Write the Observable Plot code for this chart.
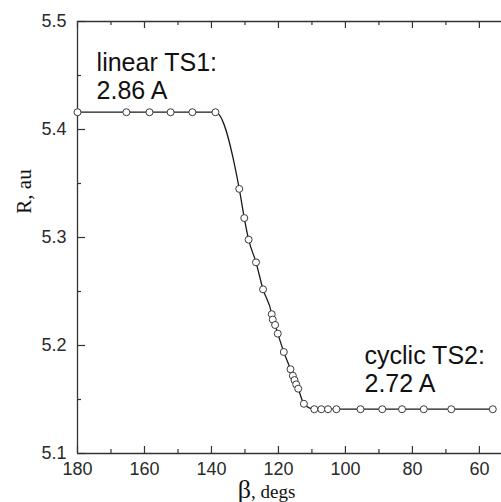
<!DOCTYPE html>
<html><head><meta charset="utf-8">
<script src="https://cdn.jsdelivr.net/npm/d3@7"></script>
<script src="https://cdn.jsdelivr.net/npm/@observablehq/plot@0.6"></script>
<style>body{margin:0;background:#fff;}</style>
</head><body><div id="chart"></div>
<script>
// data
const beta = [180, 165.4, 158.5, 152.2, 145.7, 138.8, 131.7, 130.2, 128.9, 126.7, 124.6, 122.0, 121.7, 121.0, 120.2, 118.4, 116.4, 115.7, 115.2, 114.7, 114.1, 112.4, 109.3, 107.2, 105.2, 102.7, 95.5, 89.0, 83.1, 76.6, 68.4, 56.0];
const R    = [5.416, 5.416, 5.416, 5.416, 5.416, 5.416, 5.345, 5.318, 5.298, 5.277, 5.252, 5.229, 5.224, 5.219, 5.211, 5.194, 5.178, 5.172, 5.168, 5.164, 5.160, 5.146, 5.141, 5.141, 5.141, 5.141, 5.141, 5.141, 5.141, 5.141, 5.141, 5.141];
const xMajorTicks = [180, 160, 140, 120, 100, 80, 60];
const xMinorTicks = [170, 150, 130, 110, 90, 70];
const yMajorTicks = [5.1, 5.2, 5.3, 5.4, 5.5];
const yMinorTicks = [5.15, 5.25, 5.35, 5.45];
const annText = ["linear TS1:\n2.86 A", "cyclic TS2:\n2.72 A"];
const annX = [174.3, 94.3];
const annY = [5.473, 5.201];
const xDomain = [180, 53.4];
const yDomain = [5.1, 5.5];

const points = beta.map((b, i) => ({beta: b, R: R[i]}));
const anns = annText.map((t, i) => ({t, x: annX[i], y: annY[i]}));

const W = 501, H = 502;
const mL = 77, mR = 0, mT = 21, mB = 49;
const fw = W - mL - mR, fh = H - mT - mB;
const ink = "#2a2a2a";
const sans = "'Liberation Sans', Arial, Helvetica, sans-serif";
const serif = "'Liberation Serif', 'Times New Roman', serif";

const chart = Plot.plot({
  width: W, height: H,
  marginLeft: mL, marginRight: mR, marginTop: mT, marginBottom: mB,
  style: {fontFamily: sans, color: ink, background: "#fff", overflow: "visible"},
  x: {domain: xDomain, range: [mL, W - mR]},
  y: {domain: yDomain},
  marks: [
    // frame lines
    Plot.ruleX([xDomain[0]], {stroke: "#333", strokeWidth: 1.3}),
    Plot.ruleY(yDomain, {stroke: "#333", strokeWidth: 1.3}),
    // inward ticks bottom
    Plot.ruleX(xMajorTicks, {x: d => d, insetTop: fh - 7, stroke: "#333", strokeWidth: 1.2}),
    Plot.ruleX(xMinorTicks, {x: d => d, insetTop: fh - 4, stroke: "#333", strokeWidth: 1.2}),
    // inward ticks top
    Plot.ruleX(xMajorTicks, {x: d => d, insetBottom: fh - 7, stroke: "#333", strokeWidth: 1.2}),
    Plot.ruleX(xMinorTicks, {x: d => d, insetBottom: fh - 4, stroke: "#333", strokeWidth: 1.2}),
    // inward ticks left
    Plot.ruleY(yMajorTicks, {y: d => d, insetRight: fw - 8, stroke: "#333", strokeWidth: 1.2}),
    Plot.ruleY(yMinorTicks, {y: d => d, insetRight: fw - 4, stroke: "#333", strokeWidth: 1.2}),
    // axis labels
    Plot.axisX(xMajorTicks, {anchor: "bottom", tickSize: 0, tickPadding: 9, fontSize: 18, label: null, fill: ink}),
    Plot.axisY(yMajorTicks, {anchor: "left", tickSize: 0, tickPadding: 11, fontSize: 18, label: null, fill: ink, tickFormat: d3.format(".1f")}),
    // data
    Plot.line(points, {x: "beta", y: "R", stroke: "#1a1a1a", strokeWidth: 1.3, curve: "monotone-x"}),
    Plot.dot(points, {x: "beta", y: "R", r: 3.5, stroke: "#3a3a3a", strokeWidth: 1, fill: "white"}),
    // annotations
    Plot.text(anns, {x: "x", y: "y", text: "t", textAnchor: "start", lineAnchor: "top", lineHeight: 1.12, fontSize: 25, fill: "#111", fontFamily: sans}),
    // axis titles
    Plot.text(["R, au"], {frameAnchor: "left", rotate: -90, dx: -53, dy: -46, fontSize: 21, fontFamily: serif, fill: "#111", textAnchor: "middle", lineAnchor: "middle"}),
    Plot.text(["β, degs"], {frameAnchor: "bottom", dx: -23, dy: 44, fontSize: 19, fontFamily: serif, fill: "#111", textAnchor: "middle", lineAnchor: "bottom", className: "xlab"})
  ]
});

// larger beta glyph
d3.select(chart).selectAll(".xlab text").each(function () {
  const t = d3.select(this);
  t.text(null);
  t.append("tspan").attr("font-size", 26).text("β");
  t.append("tspan").text(", degs");
});

document.getElementById("chart").appendChild(chart);
</script>
</body></html>
